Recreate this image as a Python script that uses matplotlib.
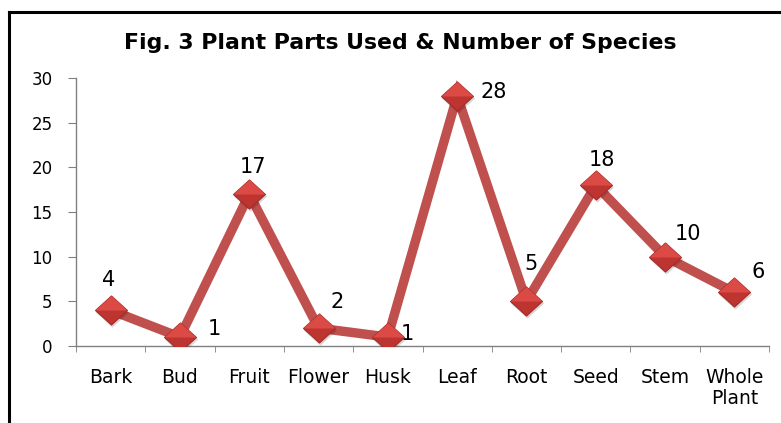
import numpy as np
import matplotlib
matplotlib.use("Agg")
import matplotlib.pyplot as plt
from matplotlib.lines import Line2D
from matplotlib.path import Path
from matplotlib.transforms import ScaledTranslation

parts = ["Bark", "Bud", "Fruit", "Flower", "Husk", "Leaf", "Root", "Seed", "Stem", "Whole\nPlant"]
species = [4, 1, 17, 2, 1, 28, 5, 18, 10, 6]

# label offsets in pixels (dx, dy)
label_off = [(-2, 30), (34, 8), (4, 27), (19, 26), (19, 3), (37, 4), (5, 37), (6, 25), (23, 23), (24, 20)]

# slightly wide diamond, plus its upper half for the lit facet
diamond = Path([(-1.1, 0), (0, 1), (1.1, 0), (0, -1), (-1.1, 0)], closed=True)
upper = Path([(-1.1, 0), (0, 1), (1.1, 0), (-1.1, 0)], closed=True)

fig = plt.figure(figsize=(7.81, 4.23), dpi=100)
ax = fig.add_axes([76 / 781, 77 / 423, 693 / 781, 268 / 423])

x = np.arange(len(parts))
ax.plot(x, species, color="#C0504D", lw=6.8, solid_joinstyle="miter", zorder=2)
shadow = ax.transData + ScaledTranslation(1 / 100, -2 / 100, fig.dpi_scale_trans)
ax.plot(x, species, ls="none", marker=diamond, ms=24, mfc="#00000028", mec="none",
        transform=shadow, zorder=3)
ax.plot(x, species, ls="none", marker=diamond, ms=23, mfc="#BE3430", mec="#A42C29", mew=0.8, zorder=4)
ax.plot(x, species, ls="none", marker=upper, ms=23, mfc="#DC4A45", mec="none", zorder=5)

for xi, yi, (dx, dy) in zip(x, species, label_off):
    ax.annotate(str(yi), (xi, yi), xytext=(dx, dy), textcoords="offset pixels",
                ha="center", va="center", fontsize=15, zorder=6)

ax.set_xlim(-0.5, len(parts) - 0.5)
ax.set_ylim(0, 30)
ax.set_yticks(range(0, 31, 5))
ax.set_xticks(x)
ax.set_xticklabels(parts, fontsize=13.5, linespacing=1.15)
ax.set_xticks(np.arange(-0.5, len(parts)), minor=True)
ax.tick_params(axis="x", which="major", length=0, pad=16)
ax.tick_params(axis="x", which="minor", length=4, color="#808080")
ax.tick_params(axis="y", labelsize=12, length=6, color="#808080", pad=11)
for s in ["top", "right"]:
    ax.spines[s].set_visible(False)
for s in ["left", "bottom"]:
    ax.spines[s].set_color("#808080")
    ax.spines[s].set_linewidth(1)

fig.text(400 / 781, 1 - 43 / 423, "Fig. 3 Plant Parts Used & Number of Species",
         ha="center", va="center", fontsize=15.8, fontweight="bold")

# outer frame (left and top edges visible)
fig.add_artist(Line2D([8.5 / 781, 8.5 / 781], [0, 1 - 12 / 423], color="black", lw=2.2, transform=fig.transFigure))
fig.add_artist(Line2D([8.5 / 781, 1], [1 - 12 / 423, 1 - 12 / 423], color="black", lw=2.2, transform=fig.transFigure))

fig.savefig("out.png", dpi=100)
